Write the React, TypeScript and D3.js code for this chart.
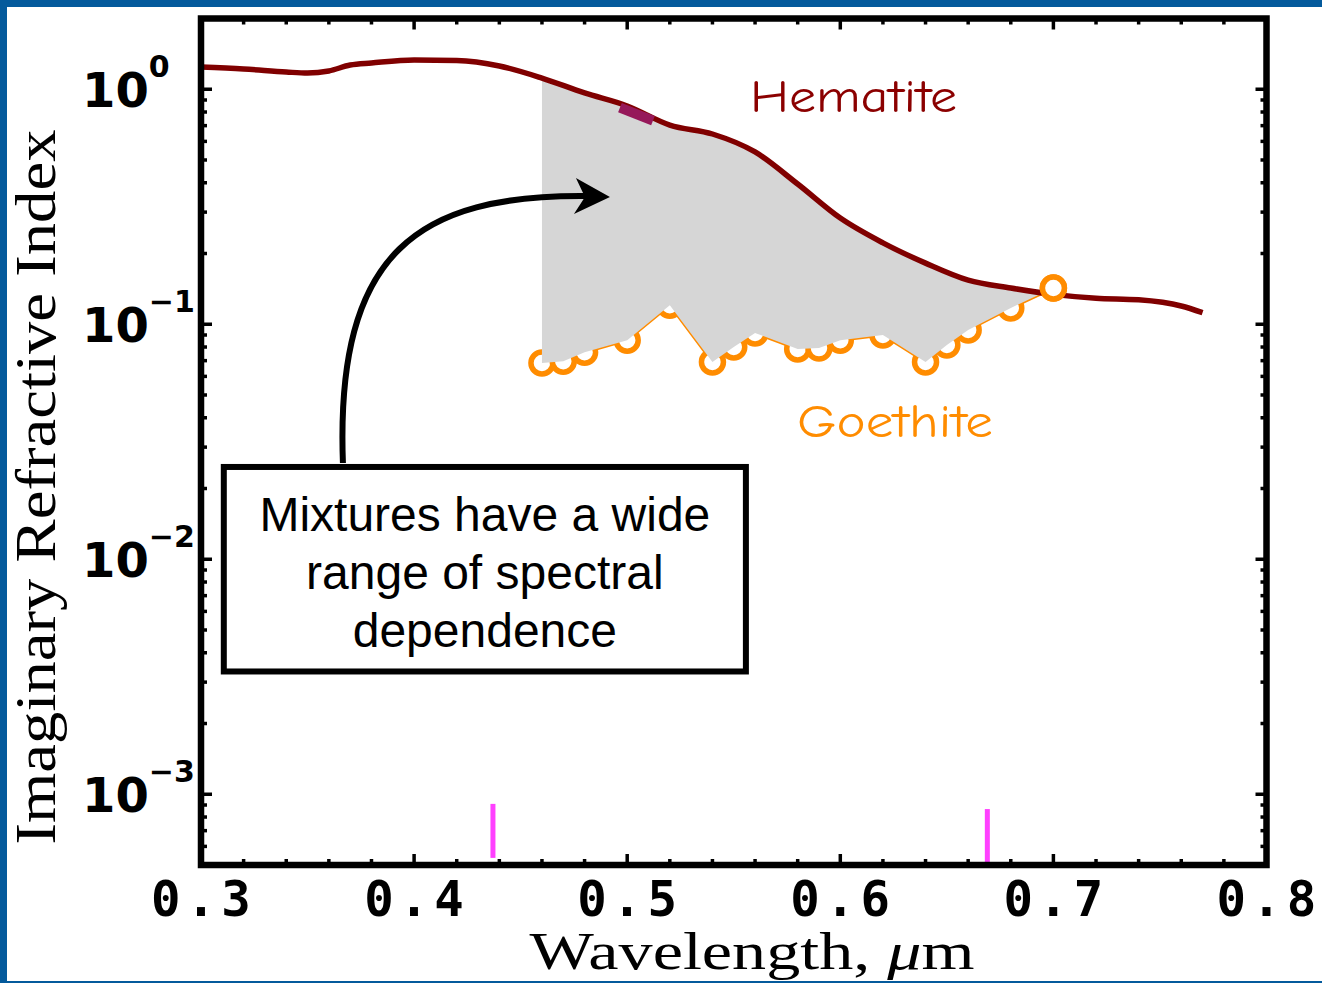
import * as d3 from 'd3';

// hematite imaginary index
const hematiteWl = [0.30, 0.32, 0.34, 0.35, 0.36, 0.37, 0.38, 0.40, 0.42, 0.44, 0.46, 0.48, 0.50, 0.52, 0.54, 0.56, 0.58, 0.60, 0.62, 0.64, 0.66, 0.68, 0.70, 0.72, 0.74, 0.76, 0.77];
const hematiteK = [1.243, 1.219, 1.184, 1.172, 1.196, 1.268, 1.293, 1.331, 1.325, 1.256, 1.116, 0.964, 0.849, 0.704, 0.645, 0.541, 0.395, 0.283, 0.222, 0.182, 0.154, 0.1426, 0.134, 0.129, 0.127, 0.1196, 0.112];

// goethite measurements (circles)
const goethiteWl = [0.46, 0.47, 0.48, 0.50, 0.52, 0.54, 0.55, 0.56, 0.58, 0.59, 0.60, 0.62, 0.64, 0.65, 0.66, 0.68, 0.70];
const goethiteK = [0.0684, 0.0696, 0.0760, 0.0855, 0.1205, 0.0691, 0.0800, 0.0918, 0.0785, 0.0792, 0.0855, 0.0900, 0.0691, 0.0816, 0.0945, 0.1173, 0.1426];

// short purple highlight on the hematite curve
const highlightWl = [0.4966, 0.5121];
const highlightK = [0.835, 0.735];

// magenta marks near the bottom axis
const markWl = [0.437, 0.669];
const markLow = [5.36e-4, 5.15e-4];
const markHigh = [9.1e-4, 8.65e-4];

const xTicks = [0.3, 0.4, 0.5, 0.6, 0.7, 0.8];
const yTickExp = [0, -1, -2, -3];
const boxLines = ['Mixtures have a wide', 'range of spectral', 'dependence'];

const W = 1322;
const H = 983;
const left = 201;
const right = 1266.5;
const top = 18.5;
const bottom = 865;

export default function App() {
  const x = d3.scaleLinear().domain([0.3, 0.8]).range([left, right]);
  const y = d3.scaleLog().domain([5e-4, 2]).range([bottom, top]);

  const hem = hematiteWl.map((w, i) => [w, hematiteK[i]] as [number, number]);
  const goe = goethiteWl.map((w, i) => [w, goethiteK[i]] as [number, number]);
  const line = d3.line<[number, number]>().x((d) => x(d[0])).y((d) => y(d[1]));
  const curve = d3.line<[number, number]>().x((d) => x(d[0])).y((d) => y(d[1])).curve(d3.curveMonotoneX);

  // gray band between the two materials
  const lo = goethiteWl[0];
  const hi = goethiteWl[goethiteWl.length - 1];
  const band = [...hem.filter((d) => d[0] >= lo && d[0] <= hi), ...goe.slice().reverse()];

  // minor ticks
  const xMinor = d3.range(0.3, 0.8001, 0.02).filter((v) => Math.abs(v * 10 - Math.round(v * 10)) > 1e-6);
  const yMinor: number[] = [];
  for (let e = -4; e <= 0; e++) {
    for (let m = 2; m <= 9; m++) {
      const v = m * Math.pow(10, e);
      if (v >= 5e-4 && v < 2) yMinor.push(v);
    }
  }

  // arrow from the box to the band
  const a0 = [x(0.3666), y(0.02568)];
  const c1 = [x(0.3629), y(0.207)];
  const c2 = [x(0.4028), y(0.355)];
  const a1 = [x(0.4802), y(0.351)];
  const tip = [x(0.4919), y(0.348)];

  const bx0 = x(0.3107);
  const bx1 = x(0.5557);
  const by0 = y(0.0247);
  const by1 = y(0.00333);

  const tickW = 3.5;
  const last = goe[goe.length - 1];

  return (
    <div style={{ position: 'absolute', left: 0, top: 0 }}>
      <svg width={W} height={H} style={{ display: 'block', background: '#fff' }}>
        <rect x={0} y={0} width={7} height={H} fill="#045a9c" />
        <rect x={0} y={0} width={W} height={7} fill="#045a9c" />
        <rect x={0} y={981} width={W} height={2} fill="#045a9c" />

        <path d={line(goe) || ''} fill="none" stroke="#ff8c00" strokeWidth={3} />
        {goe.map((d, i) => (
          <circle key={i} cx={x(d[0])} cy={y(d[1])} r={11} fill="#fff" stroke="#ff8c00" strokeWidth={5.5} />
        ))}
        <path d={line(band as [number, number][]) + 'Z'} fill="#d6d6d6" stroke="none" />
        <path d={curve(hem) || ''} fill="none" stroke="#800000" strokeWidth={5.5} />
        <circle cx={x(last[0])} cy={y(last[1])} r={11} fill="#fff" stroke="#ff8c00" strokeWidth={5.5} />

        <line x1={x(highlightWl[0])} y1={y(highlightK[0])} x2={x(highlightWl[1])} y2={y(highlightK[1])} stroke="#96185a" strokeWidth={10} />

        {markWl.map((w, i) => (
          <line key={i} x1={x(w)} x2={x(w)} y1={y(markLow[i])} y2={y(markHigh[i])} stroke="#ff40ff" strokeWidth={5} />
        ))}

        {/* frame and ticks */}
        <g stroke="#000" strokeWidth={tickW}>
          {xTicks.map((t) => (
            <g key={t}>
              <line x1={x(t)} x2={x(t)} y1={bottom} y2={bottom - 11} />
              <line x1={x(t)} x2={x(t)} y1={top} y2={top + 11} />
            </g>
          ))}
          {xMinor.map((t) => (
            <g key={t}>
              <line x1={x(t)} x2={x(t)} y1={bottom} y2={bottom - 6} />
              <line x1={x(t)} x2={x(t)} y1={top} y2={top + 6} />
            </g>
          ))}
          {yTickExp.map((e) => (
            <g key={e}>
              <line x1={left} x2={left + 11} y1={y(Math.pow(10, e))} y2={y(Math.pow(10, e))} />
              <line x1={right} x2={right - 11} y1={y(Math.pow(10, e))} y2={y(Math.pow(10, e))} />
            </g>
          ))}
          {yMinor.map((v) => (
            <g key={v}>
              <line x1={left} x2={left + 6} y1={y(v)} y2={y(v)} />
              <line x1={right} x2={right - 6} y1={y(v)} y2={y(v)} />
            </g>
          ))}
        </g>
        <rect x={left} y={top} width={right - left} height={bottom - top} fill="none" stroke="#000" strokeWidth={6.5} />

        {xTicks.map((t) => (
          <text key={t} x={x(t) + 2.7} y={916} textAnchor="middle" fontFamily="'DejaVu Sans Mono', monospace" fontWeight="bold" fontSize={49} letterSpacing={5.6}>
            {t.toFixed(1)}
          </text>
        ))}
        {yTickExp.map((e) => (
          <text key={e} x={82} y={y(Math.pow(10, e)) + 18} fontFamily="'DejaVu Sans', sans-serif" fontWeight="bold" fontSize={48}>
            <tspan>10</tspan>
            <tspan dy={-30} fontSize={30}>{e === 0 ? '0' : '\u2212' + Math.abs(e)}</tspan>
          </text>
        ))}

        <text x={752} y={969} textAnchor="middle" fontFamily="'Liberation Serif', serif" fontSize={52} textLength={445} lengthAdjust="spacingAndGlyphs">
          Wavelength, <tspan fontStyle="italic">{'\u03bc'}</tspan>m
        </text>
        <text transform="translate(55,487) rotate(-90)" textAnchor="middle" fontFamily="'Liberation Serif', serif" fontSize={56} textLength={715} lengthAdjust="spacingAndGlyphs">
          Imaginary Refractive Index
        </text>

        <text x={750} y={112} fontFamily="'Comic Sans MS', 'Comic Neue', 'Noto Sans', sans-serif" fontSize={46} fill="#8b0000" textLength={207} lengthAdjust="spacingAndGlyphs">
          Hematite
        </text>
        <text x={797} y={437} fontFamily="'Comic Sans MS', 'Comic Neue', 'Noto Sans', sans-serif" fontSize={46} fill="#ff8c00" textLength={196} lengthAdjust="spacingAndGlyphs">
          Goethite
        </text>

        {/* arrow */}
        <path d={`M${a0[0]},${a0[1]} C${c1[0]},${c1[1]} ${c2[0]},${c2[1]} ${a1[0]},${a1[1]}`} fill="none" stroke="#000" strokeWidth={6} />
        <path d={`M${tip[0]},${tip[1]} L${tip[0] - 34},${tip[1] - 19} L${tip[0] - 25},${tip[1]} L${tip[0] - 36},${tip[1] + 17} Z`} fill="#000" />

        <rect x={bx0} y={by0} width={bx1 - bx0} height={by1 - by0} fill="#fff" stroke="#000" strokeWidth={6} />
        {boxLines.map((s, i) => (
          <text key={s} x={(bx0 + bx1) / 2} y={531 + i * 58} textAnchor="middle" fontFamily="'Liberation Sans', Arial, sans-serif" fontSize={48}>
            {s}
          </text>
        ))}
      </svg>
    </div>
  );
}
